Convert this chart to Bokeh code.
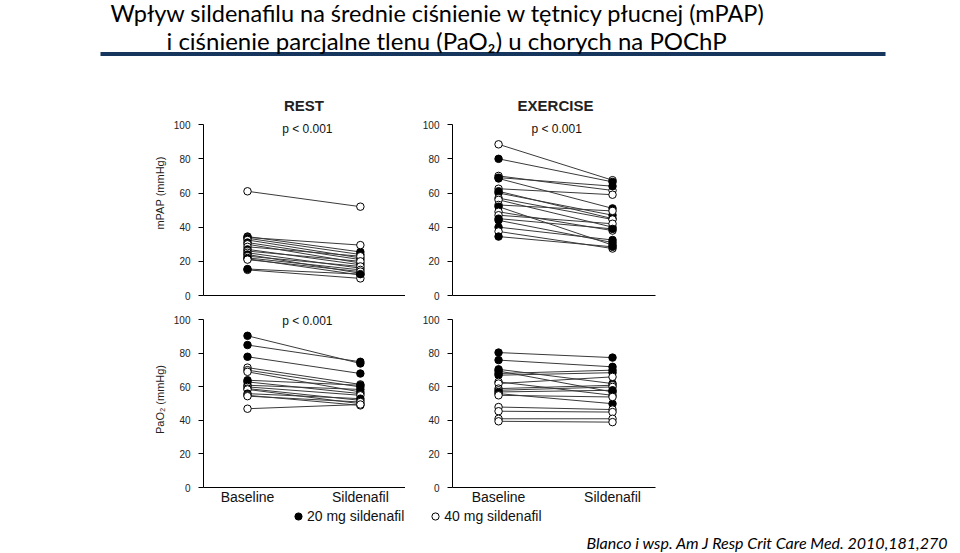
from bokeh.plotting import figure
from bokeh.models import (ColumnDataSource, Range1d, FixedTicker, Label, Legend,
                          LegendItem, BoxAnnotation)
from bokeh.layouts import column, row
from bokeh.transform import factor_cmap
from bokeh.embed import file_html
from bokeh.resources import INLINE

# ---------------- data ----------------
PHASES = ["Baseline", "Sildenafil"]
DOSES = ["20", "40"]
DOSE_LABELS = ["20 mg sildenafil", "40 mg sildenafil"]
Y_TICKS = [0, 20, 40, 60, 80, 100]

rest_mpap_base = [61, 34.5, 34, 33.5, 32.5, 31, 30, 28.5, 27, 26, 25, 24, 23, 22, 21.5, 21, 15, 15.5]
rest_mpap_sild = [52, 25.5, 29.5, 24, 22, 21, 19, 23, 18, 20, 16, 13, 17, 15, 12, 14, 10, 12.5]
rest_mpap_dose = ["40", "20", "40", "20", "40", "20", "40", "40", "20", "40", "40", "20", "40", "40", "20", "40", "40", "20"]

ex_mpap_base = [88.5, 80, 70, 69, 68.5, 62.5, 61, 60, 57, 56, 53, 52, 49, 47, 45, 44, 40, 37.5, 34.5]
ex_mpap_sild = [67.5, 66.5, 61.5, 64, 51, 59, 45, 47, 44.5, 40, 49.5, 29.5, 38, 42, 39, 31, 32.5, 27.5, 28.5]
ex_mpap_dose = ["40", "20", "40", "20", "20", "40", "20", "20", "40", "40", "40", "20", "40", "40", "20", "20", "20", "40", "20"]

rest_pao2_base = [90.5, 85, 78, 71.5, 70, 69, 64, 63, 61, 60, 59, 58.5, 56, 55, 54.5, 47]
rest_pao2_sild = [74, 75, 68, 61.5, 60, 57, 61, 56, 58.5, 55, 52, 50, 53, 49, 51, 49.5]
rest_pao2_dose = ["20", "20", "20", "40", "40", "40", "20", "20", "20", "40", "40", "40", "20", "40", "40", "40"]

ex_pao2_base = [80.5, 76, 70.5, 69.5, 68, 67, 63, 62, 59, 58, 57, 56, 55, 48, 45.5, 41, 39.5]
ex_pao2_sild = [77.5, 72, 62, 57, 70, 68.5, 55, 66, 61, 60, 58, 50, 54, 46.5, 45, 41, 39]
ex_pao2_dose = ["20", "20", "20", "20", "20", "20", "40", "40", "40", "40", "20", "20", "40", "40", "40", "40", "40"]

TITLE1 = "Wpływ sildenafilu na średnie ciśnienie w tętnicy płucnej (mPAP)"
TITLE2 = "i ciśnienie parcjalne tlenu (PaO₂) u chorych na POChP"
CITATION = "Blanco i wsp. Am J Resp Crit Care Med. 2010,181,270"

FONT = "Liberation Sans"
X_POS = [i + 1 for i in range(len(PHASES))]
W = 950


def panel(base, sild, dose, frame_w, left, right, top, bottom, frame_h, y_end,
          x_start, x_end, show_xlabels, ylabel=None, title=None, title_y=None,
          ptext_y=None, ptext_x=1.52):
    n = len(base)
    src = ColumnDataSource(dict(
        x0=[X_POS[0]] * n, x1=[X_POS[1]] * n, base=base, sild=sild, dose=dose))
    p = figure(frame_width=frame_w, frame_height=frame_h,
               min_border_left=left, min_border_right=right,
               min_border_top=top, min_border_bottom=bottom,
               x_range=Range1d(x_start, x_end), y_range=Range1d(0, y_end),
               toolbar_location=None, output_backend="svg")
    p.grid.visible = False
    p.outline_line_color = None
    p.background_fill_color = "white"
    p.border_fill_color = "white"

    p.segment(x0="x0", y0="base", x1="x1", y1="sild", source=src,
              line_color="#3a3a3a", line_width=1)
    cmap = factor_cmap("dose", ["black", "white"], DOSES)
    p.scatter(x="x0", y="base", source=src, size=7.5, fill_color=cmap,
              line_color="black", line_width=1)
    p.scatter(x="x1", y="sild", source=src, size=7.5, fill_color=cmap,
              line_color="black", line_width=1)

    ya = p.yaxis[0]
    ya.ticker = FixedTicker(ticks=Y_TICKS)
    ya.bounds = (Y_TICKS[0], Y_TICKS[-1])
    ya.minor_tick_line_color = None
    ya.major_tick_out = 5
    ya.major_tick_in = 0
    ya.major_label_standoff = 8
    ya.major_label_text_font = FONT
    ya.major_label_text_font_size = "10px"
    ya.major_label_text_color = "#222222"
    ya.axis_line_color = "black"
    ya.major_tick_line_color = "black"
    if ylabel:
        ya.axis_label = ylabel
        ya.axis_label_text_font = FONT
        ya.axis_label_text_font_size = "11px"
        ya.axis_label_text_font_style = "normal"
        ya.axis_label_text_color = "#222222"
        ya.axis_label_standoff = 5

    xa = p.xaxis[0]
    xa.axis_line_color = "black"
    xa.minor_tick_line_color = None
    xa.major_tick_line_color = None
    xa.major_tick_out = 0
    xa.major_tick_in = 0
    if show_xlabels:
        xa.ticker = FixedTicker(ticks=X_POS)
        xa.major_label_overrides = {X_POS[i]: PHASES[i] for i in range(len(PHASES))}
        xa.major_label_standoff = 1
        xa.major_label_text_font = FONT
        xa.major_label_text_font_size = "14px"
        xa.major_label_text_color = "#111111"
    else:
        xa.ticker = FixedTicker(ticks=[])

    if title:
        p.add_layout(Label(x=(X_POS[0] + X_POS[1]) / 2, y=title_y, text=title,
                           text_align="center", text_baseline="middle",
                           text_font=FONT, text_font_size="15px",
                           text_font_style="bold", text_color="#222222"))
    if ptext_y is not None:
        p.add_layout(Label(x=ptext_x, y=ptext_y, text="p < 0.001",
                           text_align="center", text_baseline="middle",
                           text_font=FONT, text_font_size="12px",
                           text_color="#111111"))
    return p


# top row: frame 90..295 (y 0..120)
tl = panel(rest_mpap_base, rest_mpap_sild, rest_mpap_dose, 202, 203, 0, 4, 10, 205, 120,
           0.61, 2.40, False, ylabel="mPAP (mmHg)", title="REST", title_y=111.2,
           ptext_y=97.2, ptext_x=1.53)
tr = panel(ex_mpap_base, ex_mpap_sild, ex_mpap_dose, 203, 47, W - 405 - 47 - 203, 4, 10, 205, 120,
           0.596, 2.377, False, title="EXERCISE", title_y=111.2, ptext_y=97.2, ptext_x=1.51)
# bottom row: frame 311..487 (y 0..105)
bl = panel(rest_pao2_base, rest_pao2_sild, rest_pao2_dose, 202, 203, 0, 6, 17, 176, 105,
           0.61, 2.40, True, ylabel="PaO₂ (mmHg)", ptext_y=99.6, ptext_x=1.53)
br = panel(ex_pao2_base, ex_pao2_sild, ex_pao2_dose, 203, 47, W - 405 - 47 - 203, 6, 17, 176, 105,
           0.596, 2.377, True)

# header
HH = 86
hdr = figure(frame_width=W, frame_height=HH, min_border=0,
             x_range=Range1d(0, W), y_range=Range1d(HH, 0),
             x_axis_type=None, y_axis_type=None,
             toolbar_location=None, output_backend="svg")
hdr.grid.visible = False
hdr.outline_line_color = None
hdr.add_layout(BoxAnnotation(left=100, right=885, top=51.5, bottom=55.5,
                             fill_color="#17365d", fill_alpha=1, line_color=None))
hdr.add_layout(Label(x=110, y=12, text=TITLE1, text_baseline="middle",
                     text_font="Lato", text_font_size="23.5px", text_color="#000000"))
hdr.add_layout(Label(x=166, y=39.5, text=TITLE2, text_baseline="middle",
                     text_font="Lato", text_font_size="24px", text_color="#000000"))

# footer
FH = 47
ftr = figure(frame_width=W, frame_height=FH, min_border=0,
             x_range=Range1d(0, W), y_range=Range1d(FH, 0),
             x_axis_type=None, y_axis_type=None,
             toolbar_location=None, output_backend="svg")
ftr.grid.visible = False
ftr.outline_line_color = None
r20 = ftr.scatter(x=[-1000], y=[-1000], size=7, fill_color="black", line_color="black")
r40 = ftr.scatter(x=[-1000], y=[-1000], size=7, fill_color="white", line_color="black")
leg = Legend(items=[LegendItem(label=DOSE_LABELS[0], renderers=[r20]),
                    LegendItem(label=DOSE_LABELS[1], renderers=[r40])],
             orientation="horizontal", location=(289, FH - 18),
             glyph_width=18, glyph_height=18, label_height=18,
             label_standoff=0, spacing=22, padding=0, margin=0,
             border_line_color=None, background_fill_alpha=0,
             label_text_font=FONT, label_text_font_size="14px",
             label_text_color="#111111")
ftr.add_layout(leg)
ftr.add_layout(Label(x=948, y=34.5, text=CITATION, text_align="right",
                     text_baseline="middle", text_font="Lato",
                     text_font_size="16px", text_font_style="italic",
                     text_color="#000000"))

layout = column(hdr, row(tl, tr), row(bl, br), ftr)
open("out.html", "w").write(file_html(layout, INLINE))
